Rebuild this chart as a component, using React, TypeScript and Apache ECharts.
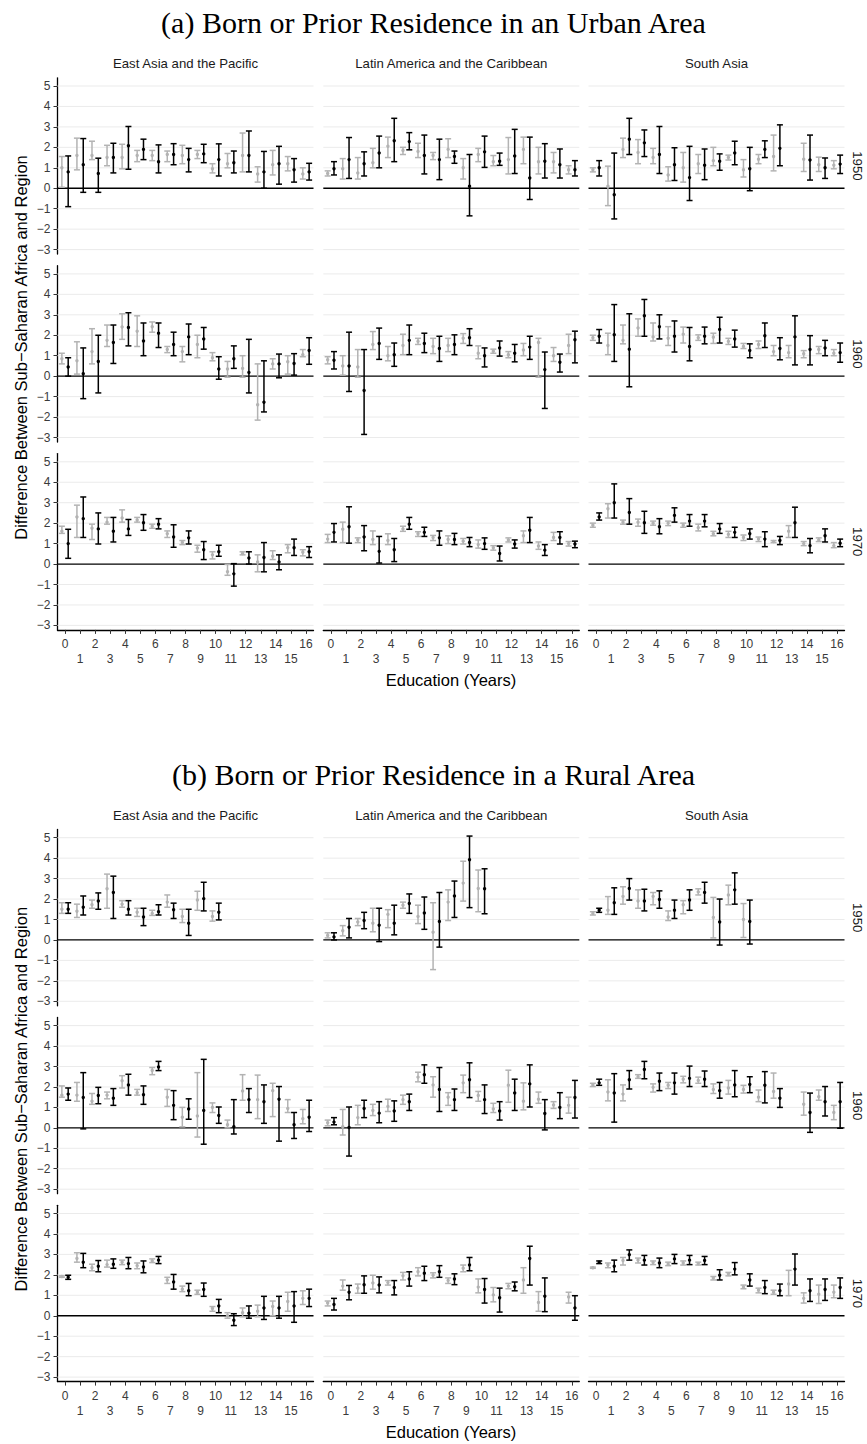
import React, { useEffect, useRef } from 'react';
import * as echarts from 'echarts';

type T = [number, number, number] | null; // [estimate, low, high]

const EDUCATION = ['0','1','2','3','4','5','6','7','8','9','10','11','12','13','14','15','16'];
const Y_TICKS = [-3, -2, -1, 0, 1, 2, 3, 4, 5];
const REGIONS = ['East Asia and the Pacific', 'Latin America and the Caribbean', 'South Asia'];
const COHORTS = ['1950', '1960', '1970'];
const FIG_TITLES = ['(a) Born or Prior Residence in an Urban Area', '(b) Born or Prior Residence in a Rural Area'];
const Y_TITLE = 'Difference Between Sub\u2212Saharan Africa and Region';
const X_TITLE = 'Education (Years)';

// ---------- (a) Urban ----------
const urban1950EapGray: T[] = [[1.0,0.05,1.55],[1.6,0.9,2.45],[1.6,1.4,2.3],[1.5,1.1,2.1],[1.5,0.95,2.15],[1.6,1.3,1.85],[1.6,1.35,1.85],[1.65,1.3,1.82],[1.6,1.2,2.1],[1.65,1.45,1.85],[0.95,0.75,1.2],[1.2,1.0,1.7],[1.6,0.8,2.7],[0.7,0.3,1.05],[1.15,0.65,1.85],[1.2,0.85,1.55],[0.7,0.45,1.0]];
const urban1950EapBlack: T[] = [[0.8,-0.9,1.58],[1.15,-0.2,2.43],[0.72,-0.2,1.47],[1.5,0.75,2.2],[2.08,0.93,3.02],[1.9,1.4,2.4],[1.3,0.75,2.12],[1.65,1.15,2.18],[1.4,0.8,1.95],[1.68,1.25,2.15],[1.4,0.6,2.17],[1.25,0.75,1.82],[1.6,0.8,2.8],[0.8,0.0,1.8],[1.2,0.2,2.05],[0.9,0.3,1.45],[0.8,0.4,1.22]];
const urban1950LacGray: T[] = [[0.72,0.6,0.85],[0.95,0.45,1.45],[0.75,0.45,1.5],[1.25,1.0,1.95],[2.05,1.5,2.5],[1.85,1.65,2.0],[1.8,1.5,2.2],[1.6,1.4,1.75],[1.9,1.5,2.42],[1.0,0.45,1.45],[1.65,1.3,1.95],[1.3,1.1,1.6],[1.4,0.7,2.48],[1.9,1.2,2.5],[1.3,0.7,2.0],[1.3,0.75,1.75],[0.9,0.7,1.1]];
const urban1950LacBlack: T[] = [[0.95,0.65,1.3],[1.4,0.48,2.48],[1.2,0.6,1.78],[1.72,1.0,2.55],[2.32,1.3,3.42],[2.28,1.88,2.72],[1.6,0.7,2.6],[1.4,0.42,2.4],[1.55,1.22,1.82],[0.1,-1.35,1.65],[1.78,1.02,2.55],[1.32,1.12,1.72],[1.58,0.72,2.88],[0.5,-0.55,2.5],[1.32,0.5,2.18],[1.15,0.5,1.92],[0.9,0.6,1.35]];
const urban1950SasGray: T[] = [[0.9,0.8,1.0],[0.1,-0.85,1.08],[1.9,1.5,2.45],[1.75,1.2,2.38],[1.5,1.2,1.95],[0.65,0.35,1.05],[1.0,0.3,1.75],[1.2,0.72,1.65],[1.35,1.1,2.0],[1.5,1.38,1.62],[0.9,0.55,1.4],[1.42,1.2,1.65],[1.55,0.85,2.6],null,[1.42,0.82,2.2],[1.15,0.82,1.52],[1.12,0.95,1.35]];
const urban1950SasBlack: T[] = [[1.0,0.6,1.35],[-0.32,-1.5,1.72],[2.4,1.65,3.42],[2.22,1.55,2.85],[1.65,0.72,3.02],[1.15,0.38,1.98],[0.52,-0.6,2.05],[1.12,0.42,1.92],[1.32,0.88,1.68],[1.72,1.15,2.3],[0.95,-0.12,2.0],[1.9,1.5,2.32],[1.95,1.1,3.1],null,[1.38,0.4,2.6],[1.0,0.48,1.48],[1.18,0.72,1.62]];

const urban1960EapGray: T[] = [[0.85,0.6,1.12],[0.75,0.1,1.68],[1.2,0.6,2.32],[1.75,1.45,2.5],[2.4,1.8,3.05],[2.2,1.45,2.95],[2.42,2.15,2.65],[1.3,1.15,1.45],[1.2,0.7,1.45],[1.55,0.9,2.0],[0.9,0.75,1.15],[0.35,-0.05,0.72],[0.38,-0.05,1.0],[-1.4,-2.15,0.6],[0.6,0.35,0.85],[0.7,0.1,1.0],[1.05,0.95,1.3]];
const urban1960EapBlack: T[] = [[0.45,0.0,0.9],[0.12,-1.1,1.38],[0.72,-0.82,2.0],[1.65,0.62,2.5],[2.38,1.48,3.1],[1.72,1.0,2.6],[2.1,1.4,2.6],[1.55,1.0,2.15],[1.92,1.05,2.55],[1.82,1.32,2.38],[0.35,-0.15,0.95],[0.85,0.38,1.48],[0.18,-0.82,1.8],[-1.28,-1.75,0.75],[0.6,-0.08,1.08],[0.62,0.05,1.1],[1.25,0.58,1.88]];
const urban1960LacGray: T[] = [[0.8,0.6,0.95],[0.5,0.05,1.0],[0.45,-0.05,1.3],[1.55,1.3,2.18],[1.0,0.75,1.45],[1.5,1.05,2.05],[1.7,1.55,1.85],[1.45,1.1,1.85],[1.5,1.2,1.85],[1.85,1.6,2.08],[1.12,0.85,1.48],[1.22,1.12,1.32],[1.05,0.9,1.2],[1.28,1.0,1.6],[1.65,-0.05,1.85],[1.0,0.72,1.4],[1.5,1.1,2.05]];
const urban1960LacBlack: T[] = [[0.78,0.35,1.2],[0.5,-0.75,2.15],[-0.7,-2.85,1.3],[1.6,0.82,2.35],[1.05,0.48,1.62],[1.75,1.05,2.5],[1.6,1.15,2.1],[1.35,0.72,1.95],[1.55,1.05,2.02],[1.88,1.5,2.32],[1.0,0.45,1.38],[1.38,0.98,1.72],[1.12,0.7,1.55],[1.42,0.82,1.95],[0.32,-1.58,1.18],[0.68,0.2,1.08],[1.78,0.65,2.2]];
const urban1960SasGray: T[] = [[1.88,1.75,2.0],[1.5,1.05,2.1],[1.75,1.58,2.5],[2.35,1.95,2.8],[1.92,1.72,2.6],[1.85,1.5,2.42],[2.05,1.62,2.4],[1.88,1.75,2.02],[1.9,1.6,2.1],[1.7,1.55,1.85],[1.45,1.35,1.6],[1.55,1.35,1.72],[1.2,1.0,1.5],[1.15,0.9,1.5],[1.1,0.9,1.25],[1.3,1.1,1.45],[1.12,1.0,1.3]];
const urban1960SasBlack: T[] = [[1.95,1.62,2.28],[2.02,0.72,3.5],[1.32,-0.52,3.05],[2.95,1.95,3.75],[2.42,1.82,3.0],[1.95,1.18,2.7],[1.45,0.75,2.38],[1.95,1.58,2.4],[2.28,1.62,2.88],[1.82,1.42,2.25],[1.25,0.9,1.58],[1.98,1.4,2.6],[1.35,0.8,1.88],[1.92,0.55,2.95],[1.3,0.55,1.98],[1.38,1.0,1.75],[1.15,0.68,1.62]];

const urban1970EapGray: T[] = [[1.6,1.5,1.85],[2.3,1.3,2.88],[1.75,1.2,1.95],[2.05,1.95,2.28],[2.25,2.05,2.65],[2.15,2.05,2.28],[1.85,1.75,1.95],[1.48,1.3,1.62],[1.05,0.95,1.15],[0.78,0.58,0.92],[0.45,0.25,0.6],[-0.38,-0.55,-0.02],[0.52,0.45,0.6],[0.1,-0.38,0.45],[0.38,0.22,0.65],[0.8,0.55,0.95],[0.58,0.4,0.7]];
const urban1970EapBlack: T[] = [[1.0,0.28,1.7],[2.22,1.3,3.28],[1.72,0.98,2.5],[1.6,1.08,2.28],[1.72,1.4,2.18],[2.02,1.65,2.42],[1.95,1.72,2.22],[1.32,0.82,1.92],[1.28,0.98,1.62],[0.7,0.22,1.1],[0.6,0.38,0.92],[-0.48,-1.08,0.02],[0.3,0.0,0.6],[0.32,-0.38,1.05],[0.1,-0.28,0.45],[0.8,0.42,1.22],[0.6,0.32,0.85]];
const urban1970LacGray: T[] = [[1.22,1.05,1.45],[1.7,1.05,2.05],[1.18,1.05,1.28],[1.2,0.95,1.62],[1.15,0.95,1.48],[1.72,1.6,1.85],[1.48,1.35,1.58],[1.3,1.15,1.4],[1.2,1.0,1.38],[1.12,0.98,1.25],[0.95,0.78,1.18],[0.8,0.68,0.9],[1.18,1.08,1.28],[1.38,1.05,1.62],[0.88,0.72,1.08],[1.3,1.15,1.55],[1.0,0.88,1.1]];
const urban1970LacBlack: T[] = [[1.55,1.08,1.98],[1.82,1.02,2.8],[1.32,0.65,1.88],[0.62,0.05,1.35],[0.7,0.12,1.25],[1.95,1.7,2.28],[1.55,1.35,1.8],[1.28,0.92,1.62],[1.2,0.95,1.5],[1.05,0.85,1.3],[1.0,0.72,1.28],[0.52,0.15,0.88],[0.98,0.78,1.18],[1.65,1.05,2.28],[0.68,0.42,0.95],[1.3,0.98,1.58],[0.98,0.8,1.12]];
const urban1970SasGray: T[] = [[1.9,1.8,2.0],[2.7,2.25,2.95],[2.05,1.95,2.15],[2.05,1.85,2.2],[2.0,1.9,2.1],[2.0,1.88,2.1],[1.9,1.8,2.0],[1.78,1.62,1.95],[1.48,1.38,1.6],[1.45,1.3,1.6],[1.3,1.15,1.42],[1.22,1.1,1.32],[1.1,1.05,1.15],[1.6,1.3,1.88],[1.0,0.9,1.1],[1.18,1.1,1.28],[0.9,0.8,1.05]];
const urban1970SasBlack: T[] = [[2.3,2.15,2.5],[3.0,2.25,3.92],[2.52,1.95,3.2],[2.02,1.5,2.58],[1.82,1.48,2.22],[2.38,2.05,2.75],[2.1,1.85,2.42],[2.1,1.82,2.42],[1.72,1.5,1.98],[1.55,1.3,1.8],[1.48,1.22,1.72],[1.22,0.85,1.58],[1.15,0.95,1.35],[2.02,1.3,2.78],[0.9,0.55,1.25],[1.38,1.08,1.72],[1.02,0.85,1.22]];

// ---------- (b) Rural ----------
const rural1950EapGray: T[] = [[1.5,1.3,1.82],[1.4,1.1,1.75],[1.72,1.55,1.95],[2.5,1.55,3.22],[1.75,1.6,1.92],[1.35,1.15,1.55],[1.3,1.2,1.45],[1.85,1.6,2.2],[1.15,0.85,1.5],[1.95,1.45,2.38],[1.15,0.92,1.42],null,null,null,null,null,null];
const rural1950EapBlack: T[] = [[1.5,1.3,1.82],[1.6,1.22,2.15],[1.9,1.5,2.3],[2.32,1.05,3.12],[1.5,1.22,1.92],[1.12,0.7,1.55],[1.38,1.22,1.72],[1.48,1.05,1.8],[0.82,0.22,1.5],[2.02,1.42,2.82],[1.35,0.98,1.8],null,null,null,null,null,null];
const rural1950LacGray: T[] = [[0.22,0.1,0.35],[0.45,0.2,0.7],[0.88,0.7,1.05],[0.82,0.4,1.55],[1.25,0.6,1.48],[1.7,1.55,1.85],[1.15,0.8,1.7],[0.38,-1.45,1.82],[1.85,0.95,2.45],[2.78,1.9,3.85],[2.52,1.38,3.42],null,null,null,null,null,null];
const rural1950LacBlack: T[] = [[0.15,0.0,0.35],[0.62,0.1,1.05],[0.95,0.55,1.35],[0.72,-0.08,1.55],[0.82,0.25,1.7],[1.78,1.3,2.25],[1.32,0.52,2.1],[0.9,-0.35,2.32],[2.15,1.1,2.88],[3.92,1.58,5.08],[2.5,1.28,3.48],null,null,null,null,null,null];
const rural1950SasGray: T[] = [[1.3,1.22,1.38],[1.45,1.25,2.12],[2.12,1.75,2.6],[1.9,1.55,2.45],[2.12,1.72,2.32],[1.12,0.95,1.42],[1.72,1.28,1.92],[2.35,2.2,2.5],[1.1,0.1,2.08],[2.2,1.72,2.68],[1.0,0.12,1.78],null,null,null,null,null,null];
const rural1950SasBlack: T[] = [[1.45,1.35,1.55],[1.82,1.25,2.55],[2.52,1.95,3.0],[1.9,1.42,2.48],[1.98,1.55,2.4],[1.45,1.05,1.95],[1.95,1.45,2.45],[2.32,1.8,2.82],[0.88,-0.25,2.0],[2.45,1.75,3.28],[0.9,-0.2,1.95],null,null,null,null,null,null];

const rural1960EapGray: T[] = [[1.6,1.5,2.05],[1.6,1.3,2.22],[1.3,1.15,1.68],[1.6,1.42,1.75],[2.3,1.95,2.55],[1.72,1.6,1.88],[2.8,2.6,2.95],[1.5,1.05,1.88],[0.52,0.05,1.0],[0.58,-0.45,2.7],[1.0,0.75,1.22],[0.15,0.0,0.38],[1.8,1.35,2.6],[1.38,0.45,2.58],[1.82,0.55,2.18],[0.95,0.75,1.38],[0.45,0.2,0.9]];
const rural1960EapBlack: T[] = [[1.65,1.35,1.95],[1.48,-0.05,2.7],[1.58,1.18,1.98],[1.45,1.1,1.92],[2.1,1.6,2.62],[1.62,1.15,2.05],[2.98,2.8,3.25],[1.1,0.4,1.82],[0.92,0.42,1.42],[0.85,-0.8,3.35],[0.6,0.22,1.02],[0.05,-0.3,1.38],[1.38,0.75,1.92],[1.28,0.22,2.1],[1.4,-0.65,2.02],[0.15,-0.52,0.75],[0.52,-0.18,1.35]];
const rural1960LacGray: T[] = [[0.25,0.1,0.38],[0.05,-0.35,0.9],[0.5,0.15,1.1],[0.85,0.6,1.15],[1.05,0.8,1.4],[1.38,1.15,1.6],[2.48,2.25,2.72],[2.1,1.5,2.5],[1.5,1.1,1.72],[2.2,1.72,2.58],[1.58,1.3,1.78],[0.92,0.75,1.2],[2.08,1.25,2.82],[1.3,0.88,2.2],[1.4,1.2,1.75],[1.12,0.95,1.28],[1.1,0.72,1.5]];
const rural1960LacBlack: T[] = [[0.28,0.15,0.5],[0.02,-1.38,1.02],[0.95,0.5,1.35],[0.72,0.25,1.28],[0.82,0.32,1.32],[1.28,0.85,1.65],[2.6,2.18,3.08],[1.88,0.8,2.95],[1.38,0.85,1.9],[2.35,1.48,3.18],[1.38,0.7,2.1],[0.82,0.38,1.28],[1.7,0.85,2.38],[2.15,1.02,3.08],[0.7,-0.1,1.38],[1.0,0.45,1.72],[1.48,0.48,2.32]];
const rural1960SasGray: T[] = [[2.1,2.02,2.18],[1.75,1.32,2.35],[1.65,1.32,2.1],[2.5,2.42,2.6],[1.98,1.75,2.15],[2.08,1.92,2.22],[2.38,2.2,2.52],[2.32,2.18,2.48],[1.88,1.68,2.15],[1.95,1.65,2.32],[1.88,1.7,2.08],[1.5,1.28,1.85],[1.78,1.45,2.68],null,[1.15,0.62,1.75],[1.52,1.35,1.85],[0.75,0.4,1.1]];
const rural1960SasBlack: T[] = [[2.2,2.08,2.38],[1.7,0.28,2.65],[2.35,1.9,2.8],[2.85,2.4,3.25],[2.28,1.82,2.68],[2.2,1.65,2.68],[2.42,2.02,3.02],[2.38,2.02,2.78],[1.82,1.45,2.22],[2.1,1.52,2.8],[2.12,1.72,2.5],[2.08,1.22,2.75],[1.45,1.0,1.92],null,[0.75,-0.22,1.7],[1.28,0.58,2.02],[1.28,-0.02,2.22]];

const rural1970EapGray: T[] = [[1.92,1.88,1.95],[2.8,2.62,3.08],[2.35,2.2,2.52],[2.5,2.38,2.72],[2.62,2.5,2.72],[2.45,2.3,2.58],[2.68,2.6,2.78],[1.75,1.58,1.88],[1.3,1.18,1.45],[1.15,1.05,1.25],[0.35,0.22,0.45],[0.0,-0.12,0.15],[0.15,-0.05,0.38],[0.22,-0.05,0.52],[0.45,0.0,0.72],[0.7,0.22,1.15],[0.85,0.55,1.22]];
const rural1970EapBlack: T[] = [[1.88,1.78,1.98],[2.62,2.35,3.05],[2.42,2.15,2.7],[2.52,2.32,2.78],[2.55,2.3,2.85],[2.38,2.1,2.68],[2.72,2.55,2.9],[1.65,1.3,2.02],[1.22,0.98,1.58],[1.28,0.95,1.6],[0.48,0.15,0.8],[-0.22,-0.48,0.1],[0.12,-0.12,0.48],[0.38,-0.18,0.95],[0.38,-0.12,0.95],[0.48,-0.32,1.18],[0.85,0.45,1.3]];
const rural1970LacGray: T[] = [[0.62,0.48,0.72],[1.45,1.25,1.75],[1.35,1.1,1.55],[1.6,1.3,1.98],[1.62,1.5,1.72],[1.95,1.75,2.12],[2.15,1.95,2.35],[1.98,1.85,2.1],[1.72,1.58,1.85],[2.32,2.15,2.48],[1.4,1.12,1.8],[1.02,0.68,1.38],[1.45,1.32,1.58],[1.75,1.1,2.35],[0.65,0.22,1.18],null,[0.92,0.62,1.15]];
const rural1970LacBlack: T[] = [[0.55,0.28,0.85],[1.15,0.78,1.48],[1.52,1.1,1.95],[1.5,1.12,1.9],[1.38,1.02,1.72],[1.8,1.45,2.15],[2.08,1.72,2.42],[2.15,1.88,2.45],[1.8,1.52,2.05],[2.48,2.2,2.85],[1.28,0.62,1.82],[0.88,0.18,1.35],[1.42,1.22,1.65],[2.8,1.5,3.4],[0.95,0.2,1.85],null,[0.38,-0.22,0.98]];
const rural1970SasGray: T[] = [[2.35,2.32,2.38],[2.48,2.35,2.58],[2.7,2.48,2.85],[2.72,2.58,2.82],[2.6,2.5,2.68],[2.52,2.45,2.62],[2.58,2.48,2.68],[2.55,2.48,2.62],[1.85,1.75,1.92],[2.05,1.95,2.12],[1.4,1.32,1.5],[1.25,1.12,1.35],[1.15,1.05,1.25],[1.55,0.98,2.22],[0.85,0.62,1.12],[1.05,0.6,1.5],[1.15,0.88,1.5]];
const rural1970SasBlack: T[] = [[2.62,2.55,2.68],[2.42,2.15,2.72],[2.98,2.72,3.22],[2.72,2.48,2.95],[2.58,2.35,2.82],[2.78,2.55,3.0],[2.72,2.5,2.95],[2.7,2.5,2.9],[1.98,1.75,2.25],[2.28,2.0,2.6],[1.75,1.45,2.05],[1.38,1.08,1.72],[1.22,0.98,1.55],[2.28,1.5,3.02],[1.22,0.7,1.8],[1.28,0.75,1.8],[1.38,0.85,1.85]];

// panels[fig][row(cohort)][col(region)] = [gray, black]
const PANELS: [T[], T[]][][][] = [
  [
    [[urban1950EapGray, urban1950EapBlack], [urban1950LacGray, urban1950LacBlack], [urban1950SasGray, urban1950SasBlack]],
    [[urban1960EapGray, urban1960EapBlack], [urban1960LacGray, urban1960LacBlack], [urban1960SasGray, urban1960SasBlack]],
    [[urban1970EapGray, urban1970EapBlack], [urban1970LacGray, urban1970LacBlack], [urban1970SasGray, urban1970SasBlack]],
  ],
  [
    [[rural1950EapGray, rural1950EapBlack], [rural1950LacGray, rural1950LacBlack], [rural1950SasGray, rural1950SasBlack]],
    [[rural1960EapGray, rural1960EapBlack], [rural1960LacGray, rural1960LacBlack], [rural1960SasGray, rural1960SasBlack]],
    [[rural1970EapGray, rural1970EapBlack], [rural1970LacGray, rural1970LacBlack], [rural1970SasGray, rural1970SasBlack]],
  ],
];

// ---------- layout ----------
const W = 867;
const H = 1444;
const SANS = 'Liberation Sans, Arial, Helvetica, sans-serif';
const SERIF = 'Liberation Serif, Times New Roman, serif';
const PANEL_LEFT = [57.5, 323.3, 588.5];
const PANEL_W = 256;
const UNIT = 20.45;
const Y_MAX = 5.4;
const Y_MIN = -3.22;
const PANEL_H = (Y_MAX - Y_MIN) * UNIT;
const ROW0_Y5 = 86;
const ROW_PITCH = 187.9;
const FIG_OFFSET = 751.7;
const GRAY = '#b3b3b3';
const BLACK = '#000000';
const OFFSET = 0.21;

const panelTop = (f: number, r: number) => ROW0_Y5 + r * ROW_PITCH + f * FIG_OFFSET - (Y_MAX - 5) * UNIT;
const minus = (v: number) => (v < 0 ? '\u2212' + Math.abs(v) : String(v));

function errorBarRender(color: string, offset: number) {
  return (params: any, api: any) => {
    const i = api.value(0);
    const band = api.size([1, 0])[0];
    const pm = api.coord([i, api.value(1)]);
    const plo = api.coord([i, api.value(2)]);
    const phi = api.coord([i, api.value(3)]);
    const x = pm[0] + offset * band;
    const cap = 3;
    const st = { stroke: color, lineWidth: 1.5 };
    return {
      type: 'group',
      children: [
        { type: 'line', shape: { x1: x, y1: plo[1], x2: x, y2: phi[1] }, style: st },
        { type: 'line', shape: { x1: x - cap, y1: phi[1], x2: x + cap, y2: phi[1] }, style: st },
        { type: 'line', shape: { x1: x - cap, y1: plo[1], x2: x + cap, y2: plo[1] }, style: st },
        { type: 'circle', shape: { cx: x, cy: pm[1], r: 1.7 }, style: { fill: color } },
      ],
    };
  };
}

function gridLineRender(params: any, api: any) {
  const cs = params.coordSys;
  const v = api.value(1);
  const y = api.coord([0, v])[1];
  const zero = v === 0;
  return {
    type: 'line',
    shape: { x1: cs.x, y1: y, x2: cs.x + cs.width, y2: y },
    style: { stroke: zero ? '#000' : '#ebebeb', lineWidth: zero ? 1.3 : 1 },
  };
}

const centered = { align: 'center', verticalAlign: 'middle', textAlign: 'center', textVerticalAlign: 'middle' };

function buildOption() {
  const grids: any[] = [];
  const xAxes: any[] = [];
  const yAxes: any[] = [];
  const series: any[] = [];
  const graphics: any[] = [];
  let g = 0;
  for (let f = 0; f < 2; f++) {
    for (let r = 0; r < 3; r++) {
      for (let c = 0; c < 3; c++) {
        const isBottom = r === 2;
        const isLeft = c === 0;
        grids.push({ left: PANEL_LEFT[c], top: panelTop(f, r), width: PANEL_W, height: PANEL_H, containLabel: false });
        xAxes.push({
          type: 'category', gridIndex: g, data: EDUCATION, boundaryGap: true,
          axisLine: { show: isBottom, onZero: false, lineStyle: { color: '#000', width: 1.3 } },
          axisTick: { show: isBottom, alignWithLabel: true, interval: 0, length: 4, lineStyle: { color: '#333', width: 1 } },
          axisLabel: {
            show: isBottom, interval: 0, margin: 6.5, fontSize: 12, lineHeight: 15, color: '#3a3a3a', fontFamily: SANS,
            formatter: (v: string, i: number) => (i % 2 === 0 ? v : '\n' + v),
          },
          splitLine: { show: false },
        });
        yAxes.push({
          type: 'value', gridIndex: g, min: Y_MIN, max: Y_MAX,
          axisLine: { show: isLeft, onZero: false, lineStyle: { color: '#000', width: 1.3 } },
          axisTick: { show: isLeft, length: 4, customValues: Y_TICKS, lineStyle: { color: '#333', width: 1 } },
          axisLabel: { show: isLeft, customValues: Y_TICKS, margin: 7, fontSize: 12, color: '#3a3a3a', fontFamily: SANS, formatter: (v: number) => minus(v) },
          splitLine: { show: false },
        });
        series.push({
          type: 'custom', xAxisIndex: g, yAxisIndex: g, z: 1, silent: true,
          data: Y_TICKS.map((v) => [0, v]), encode: { x: 0, y: 1 }, renderItem: gridLineRender,
        });
        const [gray, black] = PANELS[f][r][c];
        const toData = (arr: T[]) =>
          arr.map((t, i) => (t ? [i, t[0], t[1], t[2]] : null)).filter((d) => d !== null);
        series.push({
          type: 'custom', xAxisIndex: g, yAxisIndex: g, z: 2, silent: true,
          data: toData(gray), encode: { x: 0, y: [1, 2, 3] }, renderItem: errorBarRender(GRAY, -OFFSET),
        });
        series.push({
          type: 'custom', xAxisIndex: g, yAxisIndex: g, z: 3, silent: true,
          data: toData(black), encode: { x: 0, y: [1, 2, 3] }, renderItem: errorBarRender(BLACK, OFFSET),
        });
        g++;
      }
    }
    // figure texts
    const top0 = panelTop(f, 0);
    const bottom2 = panelTop(f, 2) + PANEL_H;
    const plotCenterX = (PANEL_LEFT[0] + PANEL_LEFT[2] + PANEL_W) / 2;
    graphics.push({
      type: 'text', x: W / 2, y: top0 - 55,
      style: { text: FIG_TITLES[f], fontSize: 30, fontFamily: SERIF, fill: '#000', ...centered },
    });
    for (let c = 0; c < 3; c++) {
      graphics.push({
        type: 'text', x: PANEL_LEFT[c] + PANEL_W / 2, y: top0 - 14.5,
        style: { text: REGIONS[c], fontSize: 13.2, fontFamily: SANS, fill: '#1a1a1a', ...centered },
      });
    }
    for (let r = 0; r < 3; r++) {
      graphics.push({
        type: 'text', x: PANEL_LEFT[2] + PANEL_W + 12.5, y: panelTop(f, r) + PANEL_H / 2, rotation: -Math.PI / 2,
        style: { text: COHORTS[r], fontSize: 13.2, fontFamily: SANS, fill: '#1a1a1a', ...centered },
      });
    }
    graphics.push({
      type: 'text', x: 20.7, y: (top0 + bottom2) / 2 - 6.4, rotation: Math.PI / 2,
      style: { text: Y_TITLE, fontSize: 16.5, fontFamily: SANS, fill: '#000', ...centered },
    });
    graphics.push({
      type: 'text', x: plotCenterX, y: bottom2 + 50,
      style: { text: X_TITLE, fontSize: 16.5, fontFamily: SANS, fill: '#000', ...centered },
    });
  }
  return {
    animation: false,
    backgroundColor: '#ffffff',
    grid: grids,
    xAxis: xAxes,
    yAxis: yAxes,
    series,
    graphic: { elements: graphics },
  };
}

export default function App() {
  const ref = useRef<HTMLDivElement>(null);
  useEffect(() => {
    if (!ref.current) return;
    const chart = echarts.init(ref.current, undefined, { renderer: 'svg' });
    chart.setOption(buildOption() as any);
    return () => chart.dispose();
  }, []);
  return <div ref={ref} style={{ position: 'absolute', left: 0, top: 0, width: W, height: H, background: '#fff' }} />;
}
